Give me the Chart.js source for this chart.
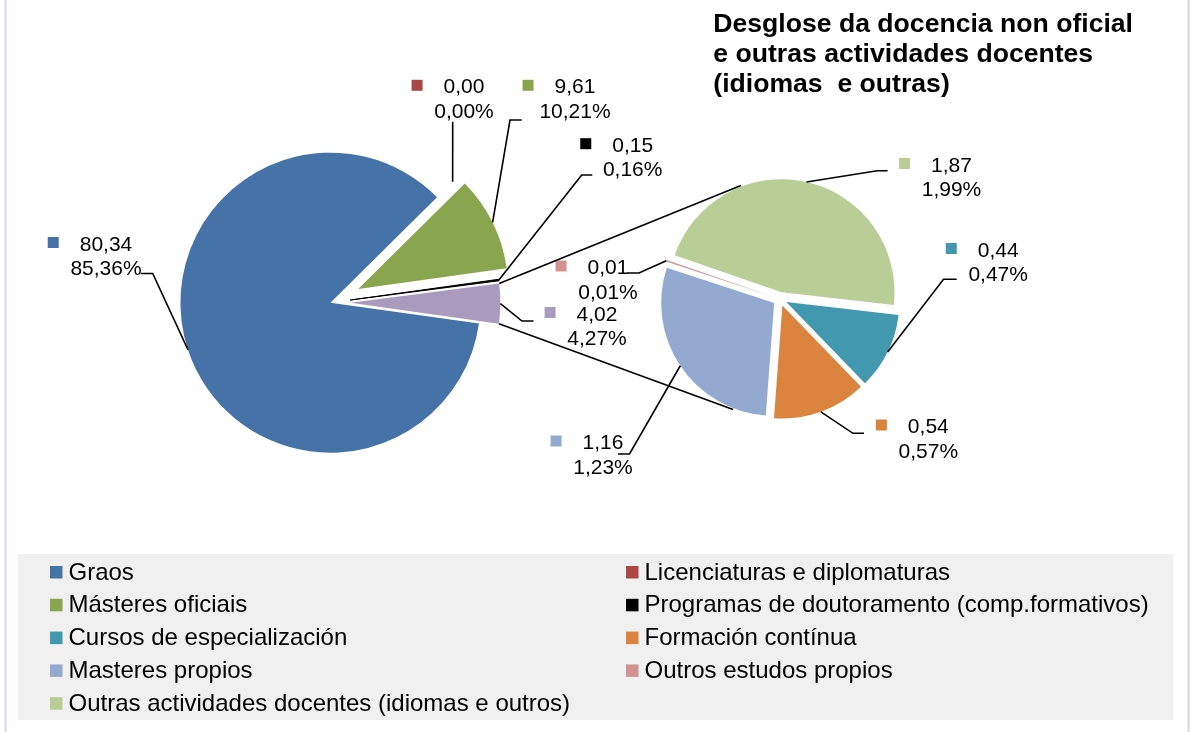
<!DOCTYPE html>
<html>
<head>
<meta charset="utf-8">
<script src="https://cdn.jsdelivr.net/npm/chart.js@4.4.0/dist/chart.umd.min.js"></script>
<style>
  html, body { margin: 0; padding: 0; background: #fff; }
  #wrap { position: relative; width: 1192px; height: 732px; overflow: hidden; }
  #wrap canvas { position: absolute; left: 0; top: 0; }
</style>
</head>
<body>
<div id="wrap">
  <canvas id="mainPie" width="1192" height="732"></canvas>
  <canvas id="subPie" width="1192" height="732"></canvas>
</div>
<script>
// data
const mainLabels = ['Graos', 'Licenciaturas e diplomaturas', 'Másteres oficiais', 'Programas de doutoramento (comp.formativos)'];
const mainValues = [80.34, 0.00, 9.61, 0.15];
const mainColors = ['#4572A7', '#AA4643', '#89A54E', '#000000'];

const subLabels = ['Cursos de especialización', 'Formación contínua', 'Masteres propios', 'Outros estudos propios', 'Outras actividades docentes (idiomas e outros)'];
const subValues = [0.44, 0.54, 1.16, 0.01, 1.87];
const subColors = ['#4198AF', '#DB843D', '#93A9CF', '#D19392', '#B9CD96'];

const otherColor = '#A99BBD';
const titleLines = ['Desglose da docencia non oficial', 'e outras actividades docentes', '(idiomas  e outras)'];

// the "other" slice of the first pie is the second pie
const otherValue = subValues.reduce((a, b) => a + b, 0);
const total = mainValues.reduce((a, b) => a + b, 0) + otherValue;

// layout
const FONT = '"Liberation Sans", Arial, sans-serif';
const mainCenter = { x: 330.4, y: 302.7 };
const subCenter = { x: 780, y: 299 };
const mainExplode = [0, 22, 31, 20, 20];
const subExplode = [7, 7, 7, 7, 7];

// label text centre / first baseline, leader start and elbow
const mainLabelPos = [
  { cx: 106, y: 250.5, a: [140.7, 273.5], e: [152.7, 273.5] },
  { cx: 464, y: 93.3, a: [452.7, 121.7], e: null },
  { cx: 575, y: 93.3, a: [521.7, 120], e: [510, 120] },
  { cx: 632.7, y: 151.7, a: [592.3, 175], e: [581.7, 175] },
  { cx: 597, y: 320.5, a: [533.5, 321], e: [522, 321] }
];
const subLabelPos = [
  { cx: 998.2, y: 256.5, a: [956.7, 279.3], e: [943.5, 279.3] },
  { cx: 928.3, y: 433, a: [864, 433.3], e: [853, 433.3] },
  { cx: 603, y: 449, a: [618, 454], e: [629.5, 454] },
  { cx: 608, y: 274, a: [627, 273], e: [639, 273] },
  { cx: 951.5, y: 171.5, a: [887.5, 170.7], e: [877.3, 170.7] }
];
const connectorAngles = [341, 203];

const fmt = n => n.toFixed(2).replace('.', ',');

function placeArcs(center, explode) {
  return {
    id: 'placeArcs',
    afterDatasetsUpdate(chart) {
      chart.getDatasetMeta(0).data.forEach((arc, i) => {
        const mid = (arc.startAngle + arc.endAngle) / 2;
        arc.x = center.x + Math.cos(mid) * explode[i];
        arc.y = center.y + Math.sin(mid) * explode[i];
      });
    }
  };
}

function pieOptions(radius, rotation) {
  return {
    responsive: false,
    maintainAspectRatio: false,
    animation: false,
    events: [],
    radius: radius,
    rotation: rotation,
    plugins: { legend: { display: false }, tooltip: { enabled: false }, title: { display: false } }
  };
}

const mainChart = new Chart(document.getElementById('mainPie'), {
  type: 'pie',
  data: {
    labels: mainLabels.concat(['Outros']),
    datasets: [{
      data: mainValues.concat([otherValue]),
      backgroundColor: mainColors.concat([otherColor]),
      borderColor: mainColors.concat([otherColor]),
      borderWidth: [0, 0, 0, 1, 0]
    }]
  },
  options: pieOptions(150, 98),
  plugins: [placeArcs(mainCenter, mainExplode)]
});

function edgePoint(arc) {
  const mid = (arc.startAngle + arc.endAngle) / 2;
  return [arc.x + Math.cos(mid) * arc.outerRadius, arc.y + Math.sin(mid) * arc.outerRadius];
}

function drawLabel(ctx, pos, value, color, arc) {
  const v = fmt(value);
  const p = fmt(value / total * 100) + '%';
  ctx.font = '21px ' + FONT;
  ctx.textAlign = 'center';
  ctx.textBaseline = 'alphabetic';
  ctx.fillStyle = '#000';
  ctx.fillText(v, pos.cx, pos.y);
  ctx.fillText(p, pos.cx, pos.y + 24.5);
  const w = ctx.measureText(v).width;
  ctx.fillStyle = color;
  ctx.fillRect(pos.cx - w / 2 - 32, pos.y - 13.5, 11, 11);

  const end = edgePoint(arc);
  ctx.beginPath();
  ctx.moveTo(pos.a[0], pos.a[1]);
  if (pos.e) ctx.lineTo(pos.e[0], pos.e[1]);
  ctx.lineTo(end[0], end[1]);
  ctx.stroke();
}

const overlay = {
  id: 'overlay',
  afterDraw(chart) {
    const ctx = chart.ctx;
    ctx.save();

    // frame lines
    ctx.fillStyle = '#CCD8EE';
    ctx.fillRect(4.5, 0, 2, 732);
    ctx.fillRect(1187.5, 0, 2, 732);

    // title
    ctx.fillStyle = '#000';
    ctx.font = 'bold 26.6px ' + FONT;
    ctx.textAlign = 'left';
    ctx.textBaseline = 'alphabetic';
    titleLines.forEach((t, i) => ctx.fillText(t, 713.3, 31.7 + i * 30));

    // legend
    ctx.fillStyle = '#F0F0F0';
    ctx.fillRect(18, 554, 1155, 166);
    const legLabels = mainLabels.concat(subLabels);
    const legColors = mainColors.concat(subColors);
    ctx.font = '24px ' + FONT;
    ctx.textBaseline = 'middle';
    legLabels.forEach((lab, i) => {
      const col = i % 2, row = Math.floor(i / 2);
      const x = col ? 626 : 50;
      const y = 572 + row * 32.8;
      ctx.fillStyle = legColors[i];
      ctx.fillRect(x, y - 6, 12.5, 12.5);
      ctx.fillStyle = '#000';
      ctx.fillText(lab, x + 18.5, y + 1);
    });

    // data labels
    ctx.strokeStyle = '#000';
    ctx.lineWidth = 1.6;
    const mainArcs = mainChart.getDatasetMeta(0).data;
    const mainVals = mainValues.concat([otherValue]);
    const mainCols = mainColors.concat([otherColor]);
    mainArcs.forEach((arc, i) => drawLabel(ctx, mainLabelPos[i], mainVals[i], mainCols[i], arc));
    const subArcs = chart.getDatasetMeta(0).data;
    subArcs.forEach((arc, i) => drawLabel(ctx, subLabelPos[i], subValues[i], subColors[i], arc));

    // connector lines from the "other" slice to the second pie
    const oth = mainArcs[mainArcs.length - 1];
    const corners = [oth.startAngle, oth.endAngle].map(a => [oth.x + Math.cos(a) * oth.outerRadius, oth.y + Math.sin(a) * oth.outerRadius]);
    const r2 = subArcs[0].outerRadius + subExplode[0];
    connectorAngles.forEach((deg, i) => {
      const a = (deg - 90) * Math.PI / 180;
      ctx.beginPath();
      ctx.moveTo(corners[i][0], corners[i][1]);
      ctx.lineTo(subCenter.x + Math.cos(a) * r2, subCenter.y + Math.sin(a) * r2);
      ctx.stroke();
    });

    ctx.restore();
  }
};

const subChart = new Chart(document.getElementById('subPie'), {
  type: 'pie',
  data: {
    labels: subLabels,
    datasets: [{
      data: subValues,
      backgroundColor: subColors,
      borderWidth: 0
    }]
  },
  options: pieOptions(113, 96.5),
  plugins: [placeArcs(subCenter, subExplode), overlay]
});
</script>
</body>
</html>
